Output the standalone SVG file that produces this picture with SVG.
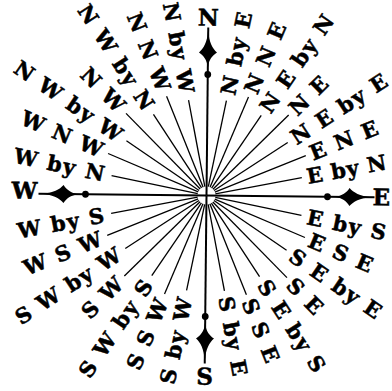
<svg xmlns="http://www.w3.org/2000/svg" xmlns:xlink="http://www.w3.org/1999/xlink" width="392" height="391" viewBox="0 0 392 391">
<style>
.lbl{font-family:"DejaVu Serif","Liberation Serif",serif;font-weight:bold;font-size:21px;letter-spacing:1.5px;fill:#000;stroke:#000;stroke-width:0.5}
.card{font-family:"DejaVu Serif","Liberation Serif",serif;font-weight:bold;font-size:23px;fill:#000;stroke:#000;stroke-width:0.5}
.ray{stroke:#000;stroke-width:1.3;fill:none}
.axis{stroke:#000;stroke-width:2;fill:none}
</style>
<defs>
<g id="arm">
<line class="axis" x1="0" y1="0" x2="168" y2="0"/>
<circle cx="121" cy="0" r="3.4" fill="#000"/>
<path d="M128 0 C136 -1 140 -4.5 143 -9 C147 -4.5 153 -1 165 0 C153 1 147 4.5 143 9 C140 4.5 136 1 128 0 Z" fill="#000"/>
</g>
</defs>
<rect width="392" height="391" fill="#fff"/>
<g transform="translate(206.5,195.5) rotate(0.6)">
<g id="connectors">
<line class="ray" x1="9" y1="0" x2="97" y2="0" transform="rotate(-78.75)"/>
<line class="ray" x1="9" y1="0" x2="107" y2="0" transform="rotate(-67.5)"/>
<line class="ray" x1="9" y1="0" x2="97" y2="0" transform="rotate(-56.25)"/>
<line class="ray" x1="9" y1="0" x2="115" y2="0" transform="rotate(-45)"/>
<line class="ray" x1="9" y1="0" x2="97" y2="0" transform="rotate(-33.75)"/>
<line class="ray" x1="9" y1="0" x2="107" y2="0" transform="rotate(-22.5)"/>
<line class="ray" x1="9" y1="0" x2="97" y2="0" transform="rotate(-11.25)"/>
<line class="ray" x1="9" y1="0" x2="97" y2="0" transform="rotate(11.25)"/>
<line class="ray" x1="9" y1="0" x2="107" y2="0" transform="rotate(22.5)"/>
<line class="ray" x1="9" y1="0" x2="97" y2="0" transform="rotate(33.75)"/>
<line class="ray" x1="9" y1="0" x2="115" y2="0" transform="rotate(45)"/>
<line class="ray" x1="9" y1="0" x2="97" y2="0" transform="rotate(56.25)"/>
<line class="ray" x1="9" y1="0" x2="107" y2="0" transform="rotate(67.5)"/>
<line class="ray" x1="9" y1="0" x2="97" y2="0" transform="rotate(78.75)"/>
<line class="ray" x1="9" y1="0" x2="97" y2="0" transform="rotate(101.25)"/>
<line class="ray" x1="9" y1="0" x2="107" y2="0" transform="rotate(112.5)"/>
<line class="ray" x1="9" y1="0" x2="97" y2="0" transform="rotate(123.75)"/>
<line class="ray" x1="9" y1="0" x2="115" y2="0" transform="rotate(135)"/>
<line class="ray" x1="9" y1="0" x2="97" y2="0" transform="rotate(146.25)"/>
<line class="ray" x1="9" y1="0" x2="107" y2="0" transform="rotate(157.5)"/>
<line class="ray" x1="9" y1="0" x2="97" y2="0" transform="rotate(168.75)"/>
<line class="ray" x1="9" y1="0" x2="97" y2="0" transform="rotate(191.25)"/>
<line class="ray" x1="9" y1="0" x2="107" y2="0" transform="rotate(202.5)"/>
<line class="ray" x1="9" y1="0" x2="97" y2="0" transform="rotate(213.75)"/>
<line class="ray" x1="9" y1="0" x2="115" y2="0" transform="rotate(225)"/>
<line class="ray" x1="9" y1="0" x2="97" y2="0" transform="rotate(236.25)"/>
<line class="ray" x1="9" y1="0" x2="107" y2="0" transform="rotate(247.5)"/>
<line class="ray" x1="9" y1="0" x2="97" y2="0" transform="rotate(258.75)"/>
<use xlink:href="#arm" transform="rotate(-90)"/>
<use xlink:href="#arm" transform="rotate(0)"/>
<use xlink:href="#arm" transform="rotate(90)"/>
<use xlink:href="#arm" transform="rotate(180)"/>
</g>
<g id="card-N"><text class="card" x="0" y="-170" text-anchor="middle">N</text></g>
<g id="card-E"><text class="card" x="166" y="8" text-anchor="start">E</text></g>
<g id="card-S"><text class="card" x="0" y="189" text-anchor="middle">S</text></g>
<g id="card-W"><text class="card" x="-169" y="5" text-anchor="end">W</text></g>
<g id="p-NbE" transform="rotate(-78.75)"><text class="lbl" x="103" y="7.5">N by E</text></g>
<g id="p-NNE" transform="rotate(-67.5)"><text class="lbl" x="112" y="7.5">N N E</text></g>
<g id="p-NEbN" transform="rotate(-56.25)"><text class="lbl" x="103" y="7.5">N E by N</text></g>
<g id="p-NE" transform="rotate(-45)"><text class="lbl" x="120" y="7.5">N E</text></g>
<g id="p-NEbE" transform="rotate(-33.75)"><text class="lbl" x="103" y="7.5">N E by E</text></g>
<g id="p-ENE" transform="rotate(-22.5)"><text class="lbl" x="112" y="7.5">E N E</text></g>
<g id="p-EbN" transform="rotate(-11.25)"><text class="lbl" x="102" y="7.5" style="letter-spacing:0.8px">E by N</text></g>
<g id="p-EbS" transform="rotate(11.25)"><text class="lbl" x="103" y="7.5">E by S</text></g>
<g id="p-ESE" transform="rotate(22.5)"><text class="lbl" x="112" y="7.5">E S E</text></g>
<g id="p-SEbE" transform="rotate(33.75)"><text class="lbl" x="103" y="7.5">S E by E</text></g>
<g id="p-SE" transform="rotate(45)"><text class="lbl" x="120" y="7.5">S E</text></g>
<g id="p-SEbS" transform="rotate(56.25)"><text class="lbl" x="103" y="7.5">S E by S</text></g>
<g id="p-SSE" transform="rotate(67.5)"><text class="lbl" x="112" y="7.5">S S E</text></g>
<g id="p-SbE" transform="rotate(78.75)"><text class="lbl" x="103" y="7.5">S by E</text></g>
<g id="p-SbW" transform="rotate(-78.75)"><text class="lbl" x="-103" y="7.5" text-anchor="end">S by W</text></g>
<g id="p-SSW" transform="rotate(-67.5)"><text class="lbl" x="-112" y="7.5" text-anchor="end">S S W</text></g>
<g id="p-SWbS" transform="rotate(-56.25)"><text class="lbl" x="-103" y="7.5" text-anchor="end">S W by S</text></g>
<g id="p-SW" transform="rotate(-45)"><text class="lbl" x="-120" y="7.5" text-anchor="end">S W</text></g>
<g id="p-SWbW" transform="rotate(-33.75)"><text class="lbl" x="-103" y="7.5" text-anchor="end">S W by W</text></g>
<g id="p-WSW" transform="rotate(-22.5)"><text class="lbl" x="-112" y="7.5" text-anchor="end">W S W</text></g>
<g id="p-WbS" transform="rotate(-11.25)"><text class="lbl" x="-103" y="7.5" text-anchor="end">W by S</text></g>
<g id="p-WbN" transform="rotate(11.25)"><text class="lbl" x="-103" y="7.5" text-anchor="end">W by N</text></g>
<g id="p-WNW" transform="rotate(22.5)"><text class="lbl" x="-112" y="7.5" text-anchor="end">W N W</text></g>
<g id="p-NWbW" transform="rotate(33.75)"><text class="lbl" x="-103" y="7.5" text-anchor="end">N W by W</text></g>
<g id="p-NW" transform="rotate(45)"><text class="lbl" x="-120" y="7.5" text-anchor="end">N W</text></g>
<g id="p-NWbN" transform="rotate(56.25)"><text class="lbl" x="-103" y="7.5" text-anchor="end">N W by N</text></g>
<g id="p-NNW" transform="rotate(67.5)"><text class="lbl" x="-112" y="7.5" text-anchor="end">N N W</text></g>
<g id="p-NbW" transform="rotate(78.75)"><text class="lbl" x="-103" y="7.5" text-anchor="end">N by W</text></g>
</g>
</svg>
